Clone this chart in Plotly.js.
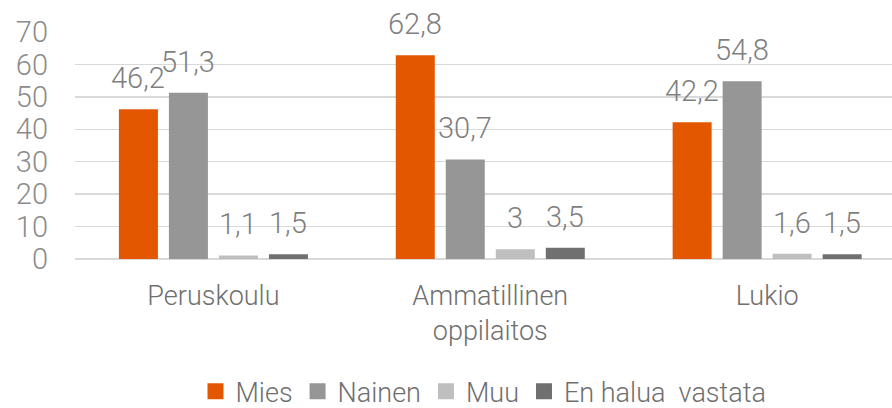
<!DOCTYPE html>
<html>
<head>
<meta charset="utf-8">
<script src="https://cdn.plot.ly/plotly-3.0.1.min.js"></script>
<style>html,body{margin:0;padding:0;background:#fff;}#chart{width:892px;height:408px;}</style>
</head>
<body>
<div id="chart"></div>
<script>
var categories = ["Peruskoulu", "Ammatillinen<br>oppilaitos", "Lukio"];
var seriesNames = ["Mies", "Nainen", "Muu", "En halua\u00a0 vastata"];
var mies = [46.2, 62.8, 42.2];
var nainen = [51.3, 30.7, 54.8];
var muu = [1.1, 3, 1.6];
var enHalua = [1.5, 3.5, 1.5];
var yTicks = [0, 10, 20, 30, 40, 50, 60, 70];

var seriesValues = [mies, nainen, muu, enHalua];
var colors = ["#E35700", "#969696", "#BFBFBF", "#707070"];
var FONT = "Roboto, 'DejaVu Sans Condensed', sans-serif";
var bargap = 0.2775;
var nSeries = seriesValues.length;

var traces = seriesValues.map(function (vals, j) {
  return {
    type: "bar",
    name: seriesNames[j],
    x: categories,
    y: vals,
    marker: { color: colors[j] },
    showlegend: false,
    hoverinfo: "skip"
  };
});

// legend-only entries with larger square swatches
seriesValues.forEach(function (vals, j) {
  traces.push({
    type: "scatter",
    mode: "markers",
    name: seriesNames[j],
    x: [null],
    y: [null],
    marker: { symbol: "square", size: 16, color: colors[j] },
    showlegend: true,
    hoverinfo: "skip"
  });
});

var annotations = [];
var slot = (1 - bargap) / nSeries;
seriesValues.forEach(function (vals, j) {
  vals.forEach(function (v, i) {
    annotations.push({
      xref: "x", yref: "y",
      x: i + (j - (nSeries - 1) / 2) * slot,
      y: v,
      text: String(v).replace(".", ","),
      showarrow: false,
      xanchor: "center",
      yanchor: "bottom",
      yshift: 12,
      font: { family: FONT, size: 29, color: "#7F7F7F", weight: 300 }
    });
  });
});

var layout = {
  width: 892,
  height: 408,
  margin: { l: 75, r: 0, t: 32, b: 149 },
  paper_bgcolor: "#ffffff",
  plot_bgcolor: "#ffffff",
  barmode: "group",
  bargap: bargap,
  bargroupgap: 0.22,
  showlegend: true,
  legend: {
    orientation: "h",
    x: 0.5, xanchor: "center",
    yref: "container", y: 0.04, yanchor: "middle",
    font: { family: FONT, size: 27, color: "#6F6F6F", weight: 300 },
    traceorder: "normal"
  },
  xaxis: {
    type: "category",
    range: [-0.5, 2.451],
    showgrid: false,
    showline: false,
    zeroline: false,
    ticks: "",
    ticklabelstandoff: 18,
    tickfont: { family: FONT, size: 27, color: "#6F6F6F", weight: 300 },
    fixedrange: true
  },
  yaxis: {
    range: [0, 70],
    tickvals: yTicks,
    ticktext: yTicks.map(String),
    showgrid: true,
    gridcolor: "#D9D9D9",
    gridwidth: 1.5,
    zeroline: true,
    zerolinecolor: "#D9D9D9",
    zerolinewidth: 1.5,
    showline: false,
    ticks: "",
    ticklabelstandoff: 26,
    tickfont: { family: FONT, size: 29, color: "#8C8C8C", weight: 300 },
    fixedrange: true
  },
  annotations: annotations,
  font: { family: FONT }
};

Plotly.newPlot("chart", traces, layout, { displayModeBar: false, staticPlot: true });
</script>
</body>
</html>
